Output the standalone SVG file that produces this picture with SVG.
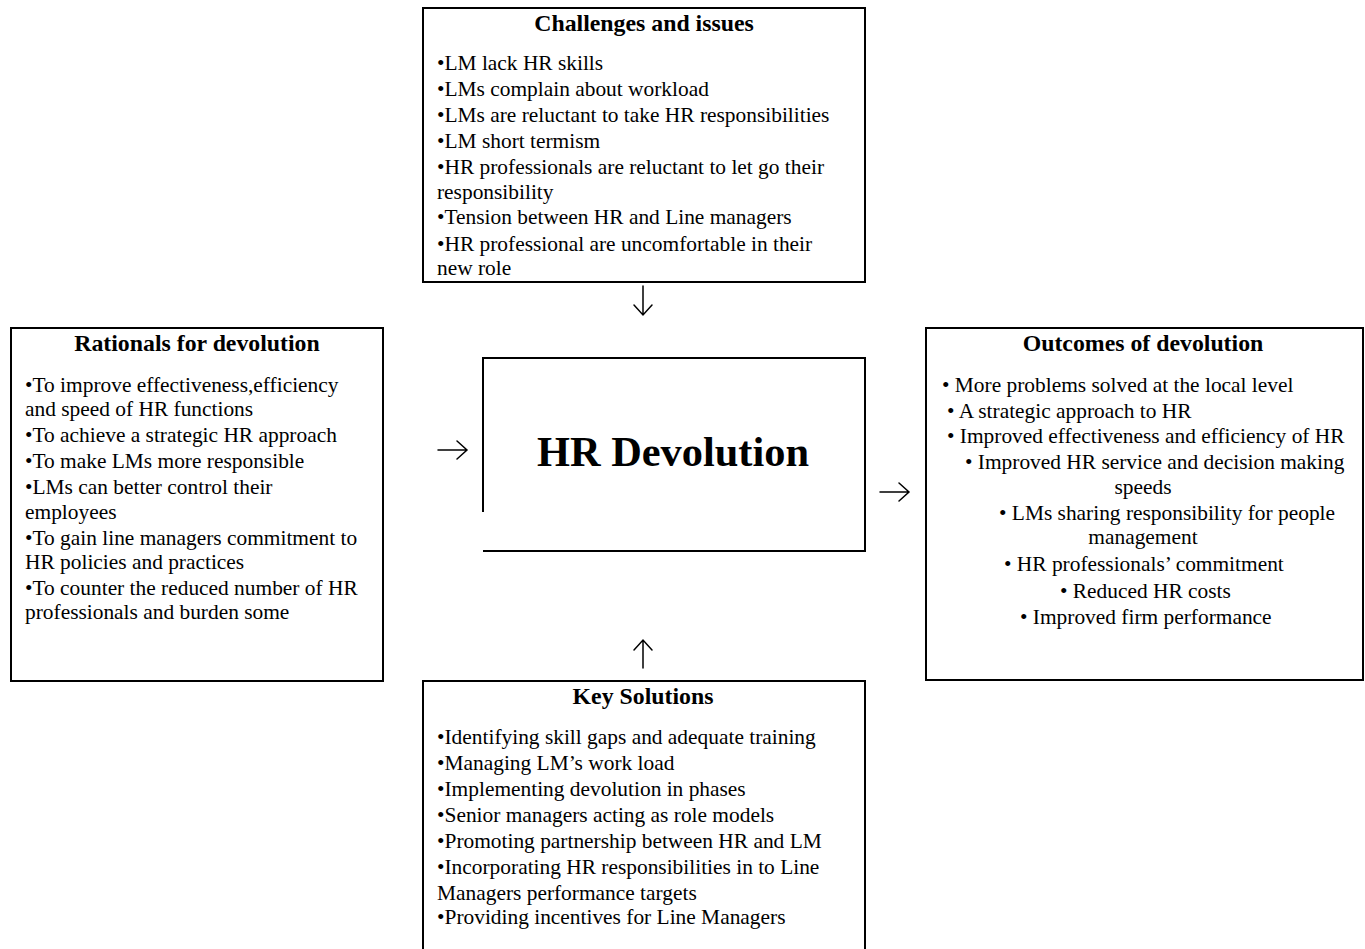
<svg xmlns="http://www.w3.org/2000/svg" width="1365" height="949" viewBox="0 0 1365 949">
<style>
.box{fill:#fff;stroke:#000;stroke-width:2}
.t{font-family:"Liberation Serif","Times New Roman",serif;font-size:21.4px;fill:#000}
.h{font-family:"Liberation Serif","Times New Roman",serif;font-size:23.8px;font-weight:bold;fill:#000;text-anchor:middle}
.big{font-family:"Liberation Serif","Times New Roman",serif;font-size:42.4px;font-weight:bold;fill:#000;text-anchor:middle}
.c{fill:none;stroke:#000;stroke-width:1.5;stroke-linecap:round;stroke-linejoin:miter}
</style>
<rect width="1365" height="949" fill="#fff"/>
<g id="challenges">
<rect class="box" x="423" y="8" width="442" height="274"/>
<text class="h" x="644" y="31">Challenges and issues</text>
<text class="t" x="437" y="70">•LM lack HR skills</text>
<text class="t" x="437" y="96">•LMs complain about workload</text>
<text class="t" x="437" y="122">•LMs are reluctant to take HR responsibilities</text>
<text class="t" x="437" y="148">•LM short termism</text>
<text class="t" x="437" y="174">•HR professionals are reluctant to let go their</text>
<text class="t" x="437" y="199">responsibility</text>
<text class="t" x="437" y="224">•Tension between HR and Line managers</text>
<text class="t" x="437" y="251">•HR professional are uncomfortable in their</text>
<text class="t" x="437" y="275">new role</text>
</g>
<g id="rationals">
<rect class="box" x="11" y="328" width="372" height="353"/>
<text class="h" x="197" y="351">Rationals for devolution</text>
<text class="t" x="25" y="392">•To improve effectiveness,efficiency</text>
<text class="t" x="25" y="416">and speed of HR functions</text>
<text class="t" x="25" y="442">•To achieve a strategic HR approach</text>
<text class="t" x="25" y="468">•To make LMs more responsible</text>
<text class="t" x="25" y="494">•LMs can better control their</text>
<text class="t" x="25" y="519">employees</text>
<text class="t" x="25" y="545">•To gain line managers commitment to</text>
<text class="t" x="25" y="569">HR policies and practices</text>
<text class="t" x="25" y="595">•To counter the reduced number of HR</text>
<text class="t" x="25" y="619">professionals and burden some</text>
</g>
<g id="hr-devolution">
<path d="M483 512 V358 H865 V551 H483" fill="none" stroke="#000" stroke-width="2"/>
<text class="big" x="673" y="466">HR Devolution</text>
</g>
<g id="outcomes">
<rect class="box" x="926" y="328" width="437" height="352"/>
<text class="h" x="1143" y="351">Outcomes of devolution</text>
<text class="t" x="942" y="392">• More problems solved at the local level</text>
<text class="t" x="947" y="418">• A strategic approach to HR</text>
<text class="t" x="947" y="443">• Improved effectiveness and efficiency of HR</text>
<text class="t" x="965" y="469">• Improved HR service and decision making</text>
<text class="t" x="1143" y="494" text-anchor="middle">speeds</text>
<text class="t" x="999" y="520">• LMs sharing responsibility for people</text>
<text class="t" x="1143" y="544" text-anchor="middle">management</text>
<text class="t" x="1004" y="571">• HR professionals’ commitment</text>
<text class="t" x="1060" y="598">• Reduced HR costs</text>
<text class="t" x="1020" y="624">• Improved firm performance</text>
</g>
<g id="solutions">
<path d="M423 950 V681 H865 V950" class="box"/>
<text class="h" x="643" y="704">Key Solutions</text>
<text class="t" x="437" y="744">•Identifying skill gaps and adequate training</text>
<text class="t" x="437" y="770">•Managing LM’s work load</text>
<text class="t" x="437" y="796">•Implementing devolution in phases</text>
<text class="t" x="437" y="822">•Senior managers acting as role models</text>
<text class="t" x="437" y="848">•Promoting partnership between HR and LM</text>
<text class="t" x="437" y="874">•Incorporating HR responsibilities in to Line</text>
<text class="t" x="437" y="900">Managers performance targets</text>
<text class="t" x="437" y="924">•Providing incentives for Line Managers</text>
</g>
<g id="connectors">
<path class="c" d="M643 286 V315 M634 305 L643 315 L652 305"/>
<path class="c" d="M643 668 V640 M634 650 L643 640 L652 650"/>
<path class="c" d="M438 450 H467 M457 441 L467 450 L457 459"/>
<path class="c" d="M880 492 H909 M899 483 L909 492 L899 501"/>
</g>
</svg>
